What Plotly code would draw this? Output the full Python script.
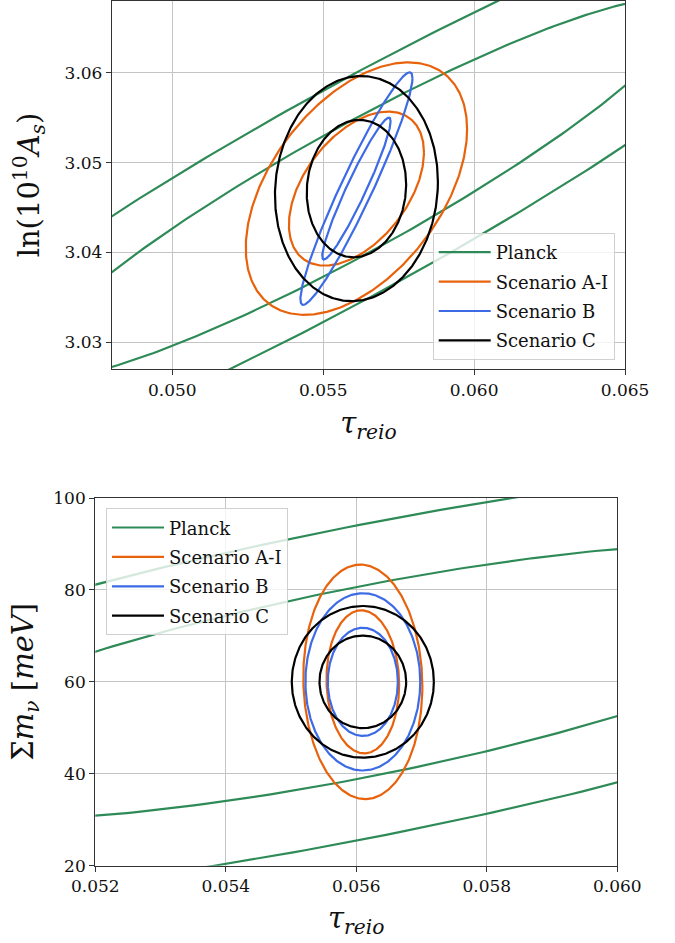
import numpy as np
import plotly.graph_objects as go

# ---------------- data ----------------
series_names = ["Planck", "Scenario A-I", "Scenario B", "Scenario C"]
series_colors = ["#2e8b57", "#e8620c", "#3d6be6", "#000000"]

# 2D Gaussian contour levels (68% and 95%): sqrt(delta chi^2)
contour_levels = [1.517, 2.486]

# Top panel: tau_reio vs ln(10^10 A_s)
top_center_tau = [0.0561, 0.0561, 0.0561, 0.0561]
top_center_As = [3.0471, 3.0471, 3.0471, 3.0471]
top_sigma_tau = [0.0072, 0.001475, 0.000747, 0.001086]
top_sigma_As = [0.01396, 0.005657, 0.005211, 0.005045]
top_rho = [0.928, 0.47, 0.95, 0.06]

# Bottom panel: tau_reio vs sum m_nu [meV]
bot_center_tau = [0.0561, 0.0561, 0.0561, 0.0561]
bot_center_mnu = [60.0, 60.0, 60.0, 60.0]
bot_sigma_tau = [0.0052, 0.000367, 0.000354, 0.000438]
bot_sigma_mnu = [19.87, 10.26, 7.76, 6.64]
bot_rho = [0.72, -0.04, 0.0, 0.0]

top_xticks = [0.050, 0.055, 0.060, 0.065]
top_yticks = [3.03, 3.04, 3.05, 3.06]
bot_xticks = [0.052, 0.054, 0.056, 0.058, 0.060]
bot_yticks = [20, 40, 60, 80, 100]


def ellipse_curves(cx, cy, sx, sy, rho, levels, n=400):
    t = np.linspace(0, 2 * np.pi, n)
    xs, ys = [], []
    for k in levels:
        x = cx + k * sx * np.cos(t)
        y = cy + k * sy * (rho * np.cos(t) + np.sqrt(1 - rho ** 2) * np.sin(t))
        xs += list(x) + [None]
        ys += list(y) + [None]
    return xs, ys


fig = go.Figure()

FONT = "DejaVu Serif"

for i, name in enumerate(series_names):
    x, y = ellipse_curves(top_center_tau[i], top_center_As[i], top_sigma_tau[i],
                          top_sigma_As[i], top_rho[i], contour_levels)
    fig.add_trace(go.Scatter(x=x, y=y, mode="lines", name=name,
                             line=dict(color=series_colors[i], width=2.2),
                             legendgroup=f"top{i}",
                             xaxis="x", yaxis="y", legend="legend"))
for i, name in enumerate(series_names):
    x, y = ellipse_curves(bot_center_tau[i], bot_center_mnu[i], bot_sigma_tau[i],
                          bot_sigma_mnu[i], bot_rho[i], contour_levels)
    fig.add_trace(go.Scatter(x=x, y=y, mode="lines", name=name,
                             line=dict(color=series_colors[i], width=2.2),
                             legendgroup=f"bot{i}",
                             xaxis="x2", yaxis="y2", legend="legend2"))

W, H = 675, 943

axis_common = dict(showline=True, linecolor="#333333", linewidth=1.3, mirror=True,
                   ticks="outside", ticklen=5, tickwidth=1.2, tickcolor="#333333",
                   showgrid=True, gridcolor="#c4c4c4", gridwidth=1, zeroline=False,
                   automargin=False,
                   tickfont=dict(family=FONT, size=17, color="#111111"))

title_font = dict(family=FONT, size=29, color="#111111")

legend_common = dict(xanchor="left", yanchor="top", itemwidth=52,
                     traceorder="grouped", tracegroupgap=3,
                     bgcolor="rgba(255,255,255,0.8)", bordercolor="#d0d0d0", borderwidth=1,
                     font=dict(family=FONT, size=18, color="#111111"))

fig.update_layout(
    width=W, height=H,
    margin=dict(l=0, r=0, t=0, b=0, autoexpand=False),
    paper_bgcolor="white", plot_bgcolor="white",
    font=dict(family=FONT),
    xaxis=dict(domain=[112 / W, 625 / W], range=[0.048, 0.065], anchor="y",
               tickvals=top_xticks, tickformat=".3f",
               title=dict(text="<i>τ<sub>reio</sub></i>", font=title_font, standoff=14),
               **axis_common),
    yaxis=dict(domain=[1 - 369 / H, 1 - 1 / H], range=[3.027, 3.068], anchor="x",
               tickvals=top_yticks, tickformat=".2f",
               title=dict(text="ln(10<sup>10</sup><i>A<sub>s</sub></i>)", font=title_font,
                          standoff=16),
               **axis_common),
    xaxis2=dict(domain=[95.3 / W, 617.3 / W], range=[0.052, 0.060], anchor="y2",
                tickvals=bot_xticks, tickformat=".3f",
                title=dict(text="<i>τ<sub>reio</sub></i>", font=title_font, standoff=12),
                **axis_common),
    yaxis2=dict(domain=[1 - 865.7 / H, 1 - 498 / H], range=[20, 100], anchor="x2",
                tickvals=bot_yticks,
                title=dict(text="Σ<i>m<sub>ν</sub></i> [<i>meV</i>]", font=title_font,
                           standoff=11),
                **axis_common),
    legend=dict(x=432.7 / W, y=1 - 233 / H, **legend_common),
    legend2=dict(x=106 / W, y=1 - 508.3 / H, **legend_common),
)

fig.write_html("out.html")
